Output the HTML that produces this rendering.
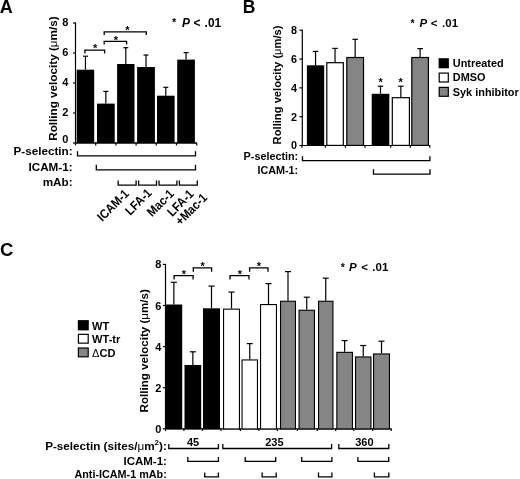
<!DOCTYPE html>
<html><head><meta charset="utf-8"><style>
html,body{margin:0;padding:0;background:#fff;}
body{width:520px;height:479px;overflow:hidden;}
svg{display:block;will-change:transform;filter:blur(0.35px);}
text{font-family:"Liberation Sans",sans-serif;font-weight:bold;fill:#000;}
</style></head><body>
<svg width="520" height="479" viewBox="0 0 520 479">
<rect x="0" y="0" width="520" height="479" fill="#fff"/>
<text x="-0.30" y="12.50" font-size="18" text-anchor="start" >A</text>
<line x1="75.50" y1="22.50" x2="75.50" y2="143.60" stroke="#000" stroke-width="1.2"/>
<line x1="73.00" y1="143.00" x2="75.50" y2="143.00" stroke="#000" stroke-width="1.2"/>
<text x="68.40" y="143.00" font-size="11" text-anchor="end" >0</text>
<line x1="73.00" y1="113.00" x2="75.50" y2="113.00" stroke="#000" stroke-width="1.2"/>
<text x="68.40" y="116.00" font-size="11" text-anchor="end" >2</text>
<line x1="73.00" y1="83.00" x2="75.50" y2="83.00" stroke="#000" stroke-width="1.2"/>
<text x="68.40" y="86.00" font-size="11" text-anchor="end" >4</text>
<line x1="73.00" y1="53.00" x2="75.50" y2="53.00" stroke="#000" stroke-width="1.2"/>
<text x="68.40" y="56.00" font-size="11" text-anchor="end" >6</text>
<line x1="73.00" y1="23.00" x2="75.50" y2="23.00" stroke="#000" stroke-width="1.2"/>
<text x="68.40" y="26.00" font-size="11" text-anchor="end" >8</text>
<line x1="75.50" y1="143.00" x2="196.90" y2="143.00" stroke="#000" stroke-width="1.4"/>
<line x1="75.50" y1="143.00" x2="75.50" y2="145.40" stroke="#000" stroke-width="1.2"/>
<line x1="95.70" y1="143.00" x2="95.70" y2="145.40" stroke="#000" stroke-width="1.2"/>
<line x1="115.90" y1="143.00" x2="115.90" y2="145.40" stroke="#000" stroke-width="1.2"/>
<line x1="136.10" y1="143.00" x2="136.10" y2="145.40" stroke="#000" stroke-width="1.2"/>
<line x1="156.30" y1="143.00" x2="156.30" y2="145.40" stroke="#000" stroke-width="1.2"/>
<line x1="176.50" y1="143.00" x2="176.50" y2="145.40" stroke="#000" stroke-width="1.2"/>
<line x1="196.70" y1="143.00" x2="196.70" y2="145.40" stroke="#000" stroke-width="1.2"/>
<line x1="85.45" y1="56.20" x2="85.45" y2="69.70" stroke="#000" stroke-width="1.2"/>
<line x1="82.95" y1="56.20" x2="87.95" y2="56.20" stroke="#000" stroke-width="1.2"/>
<rect x="76.70" y="69.70" width="17.50" height="73.30" fill="#000"/>
<line x1="105.85" y1="91.40" x2="105.85" y2="103.60" stroke="#000" stroke-width="1.2"/>
<line x1="103.35" y1="91.40" x2="108.35" y2="91.40" stroke="#000" stroke-width="1.2"/>
<rect x="97.00" y="103.60" width="17.70" height="39.40" fill="#000"/>
<line x1="125.80" y1="47.70" x2="125.80" y2="64.00" stroke="#000" stroke-width="1.2"/>
<line x1="123.30" y1="47.70" x2="128.30" y2="47.70" stroke="#000" stroke-width="1.2"/>
<rect x="117.10" y="64.00" width="17.40" height="79.00" fill="#000"/>
<line x1="146.00" y1="55.00" x2="146.00" y2="67.00" stroke="#000" stroke-width="1.2"/>
<line x1="143.50" y1="55.00" x2="148.50" y2="55.00" stroke="#000" stroke-width="1.2"/>
<rect x="137.10" y="67.00" width="17.80" height="76.00" fill="#000"/>
<line x1="165.80" y1="87.30" x2="165.80" y2="95.70" stroke="#000" stroke-width="1.2"/>
<line x1="163.30" y1="87.30" x2="168.30" y2="87.30" stroke="#000" stroke-width="1.2"/>
<rect x="157.00" y="95.70" width="17.60" height="47.30" fill="#000"/>
<line x1="186.05" y1="52.60" x2="186.05" y2="59.60" stroke="#000" stroke-width="1.2"/>
<line x1="183.55" y1="52.60" x2="188.55" y2="52.60" stroke="#000" stroke-width="1.2"/>
<rect x="177.20" y="59.60" width="17.70" height="83.40" fill="#000"/>
<polyline points="84.90,53.50 84.90,50.20 104.60,50.20 104.60,53.50" fill="none" stroke="#000" stroke-width="1.3" stroke-linejoin="miter"/>
<text x="95.10" y="51.92" font-size="11" text-anchor="middle" >*</text>
<polyline points="104.20,44.50 104.20,41.30 126.60,41.30 126.60,44.50" fill="none" stroke="#000" stroke-width="1.3" stroke-linejoin="miter"/>
<text x="116.00" y="43.52" font-size="11" text-anchor="middle" >*</text>
<polyline points="104.20,34.90 104.20,31.90 146.30,31.90 146.30,34.90" fill="none" stroke="#000" stroke-width="1.3" stroke-linejoin="miter"/>
<text x="127.30" y="33.82" font-size="11" text-anchor="middle" >*</text>
<text x="171.90" y="25.90" font-size="10.8" text-anchor="start" >*</text>
<text x="181.90" y="27.10" font-size="11.9" font-style="italic">P</text>
<text x="193.40" y="27.10" font-size="11.9" text-anchor="start" >&lt;</text>
<text x="204.59" y="27.10" font-size="11.9" text-anchor="start" >.01</text>
<text transform="translate(56.50,78.60) rotate(-90)" x="0" y="0" font-size="11.7" text-anchor="middle">Rolling velocity (<tspan font-weight="normal">&#956;</tspan>m/s)</text>
<text x="72.60" y="155.10" font-size="11.7" text-anchor="end" >P-selectin:</text>
<text x="72.60" y="170.50" font-size="11.7" text-anchor="end" >ICAM-1:</text>
<text x="72.60" y="185.70" font-size="11.7" text-anchor="end" >mAb:</text>
<polyline points="77.50,151.20 77.50,155.80 195.50,155.80 195.50,151.20" fill="none" stroke="#000" stroke-width="1.3" stroke-linejoin="miter"/>
<polyline points="96.30,164.80 96.30,169.80 195.50,169.80 195.50,164.80" fill="none" stroke="#000" stroke-width="1.3" stroke-linejoin="miter"/>
<polyline points="118.20,180.50 118.20,185.10 136.10,185.10 136.10,180.50" fill="none" stroke="#000" stroke-width="1.3" stroke-linejoin="miter"/>
<polyline points="138.60,180.50 138.60,185.10 156.50,185.10 156.50,180.50" fill="none" stroke="#000" stroke-width="1.3" stroke-linejoin="miter"/>
<polyline points="159.00,180.50 159.00,185.10 176.90,185.10 176.90,180.50" fill="none" stroke="#000" stroke-width="1.3" stroke-linejoin="miter"/>
<polyline points="179.40,180.50 179.40,185.10 197.30,185.10 197.30,180.50" fill="none" stroke="#000" stroke-width="1.3" stroke-linejoin="miter"/>
<text transform="translate(129.80,194.50) rotate(-45) scale(0.9,1)" font-size="12.6" text-anchor="end">ICAM-1</text>
<text transform="translate(152.50,193.70) rotate(-45) scale(0.9,1)" font-size="12.6" text-anchor="end">LFA-1</text>
<text transform="translate(174.80,194.50) rotate(-45) scale(0.9,1)" font-size="12.6" text-anchor="end">Mac-1</text>
<text transform="translate(194.50,194.90) rotate(-45) scale(0.9,1)" font-size="12.6" text-anchor="end">LFA-1</text>
<text transform="translate(207.90,198.60) rotate(-45) scale(0.9,1)" font-size="12.6" text-anchor="end">+Mac-1</text>
<text x="242.70" y="12.70" font-size="17.5" text-anchor="start" >B</text>
<line x1="302.30" y1="29.70" x2="302.30" y2="146.10" stroke="#000" stroke-width="1.2"/>
<line x1="299.40" y1="145.50" x2="302.30" y2="145.50" stroke="#000" stroke-width="1.2"/>
<text x="297.00" y="149.40" font-size="10.8" text-anchor="end" >0</text>
<line x1="299.40" y1="116.68" x2="302.30" y2="116.68" stroke="#000" stroke-width="1.2"/>
<text x="297.00" y="120.58" font-size="10.8" text-anchor="end" >2</text>
<line x1="299.40" y1="87.86" x2="302.30" y2="87.86" stroke="#000" stroke-width="1.2"/>
<text x="297.00" y="91.76" font-size="10.8" text-anchor="end" >4</text>
<line x1="299.40" y1="59.04" x2="302.30" y2="59.04" stroke="#000" stroke-width="1.2"/>
<text x="297.00" y="62.94" font-size="10.8" text-anchor="end" >6</text>
<line x1="299.40" y1="30.22" x2="302.30" y2="30.22" stroke="#000" stroke-width="1.2"/>
<text x="297.00" y="34.12" font-size="10.8" text-anchor="end" >8</text>
<line x1="302.30" y1="145.50" x2="430.00" y2="145.50" stroke="#000" stroke-width="1.2"/>
<line x1="302.00" y1="145.50" x2="302.00" y2="147.70" stroke="#000" stroke-width="1.2"/>
<line x1="325.40" y1="145.50" x2="325.40" y2="147.70" stroke="#000" stroke-width="1.2"/>
<line x1="345.40" y1="145.50" x2="345.40" y2="147.70" stroke="#000" stroke-width="1.2"/>
<line x1="365.00" y1="145.50" x2="365.00" y2="147.70" stroke="#000" stroke-width="1.2"/>
<line x1="390.70" y1="145.50" x2="390.70" y2="147.70" stroke="#000" stroke-width="1.2"/>
<line x1="410.30" y1="145.50" x2="410.30" y2="147.70" stroke="#000" stroke-width="1.2"/>
<line x1="429.80" y1="145.50" x2="429.80" y2="147.70" stroke="#000" stroke-width="1.2"/>
<line x1="315.55" y1="51.40" x2="315.55" y2="65.30" stroke="#000" stroke-width="1.2"/>
<line x1="312.80" y1="51.40" x2="318.30" y2="51.40" stroke="#000" stroke-width="1.2"/>
<rect x="306.90" y="65.30" width="17.30" height="80.20" fill="#000"/>
<line x1="335.05" y1="48.40" x2="335.05" y2="62.10" stroke="#000" stroke-width="1.2"/>
<line x1="332.30" y1="48.40" x2="337.80" y2="48.40" stroke="#000" stroke-width="1.2"/>
<rect x="326.80" y="62.70" width="16.50" height="82.70" fill="#fff" stroke="#000" stroke-width="1.2"/>
<line x1="355.15" y1="39.30" x2="355.15" y2="56.90" stroke="#000" stroke-width="1.2"/>
<line x1="352.40" y1="39.30" x2="357.90" y2="39.30" stroke="#000" stroke-width="1.2"/>
<rect x="346.80" y="57.50" width="16.70" height="87.90" fill="#858585" stroke="#000" stroke-width="1.2"/>
<line x1="380.50" y1="86.20" x2="380.50" y2="93.80" stroke="#000" stroke-width="1.2"/>
<line x1="377.75" y1="86.20" x2="383.25" y2="86.20" stroke="#000" stroke-width="1.2"/>
<rect x="371.70" y="93.80" width="17.60" height="51.70" fill="#000"/>
<line x1="400.85" y1="86.20" x2="400.85" y2="97.10" stroke="#000" stroke-width="1.2"/>
<line x1="398.10" y1="86.20" x2="403.60" y2="86.20" stroke="#000" stroke-width="1.2"/>
<rect x="392.30" y="97.70" width="17.10" height="47.70" fill="#fff" stroke="#000" stroke-width="1.2"/>
<line x1="420.10" y1="48.60" x2="420.10" y2="56.90" stroke="#000" stroke-width="1.2"/>
<line x1="417.35" y1="48.60" x2="422.85" y2="48.60" stroke="#000" stroke-width="1.2"/>
<rect x="411.80" y="57.50" width="16.60" height="87.90" fill="#858585" stroke="#000" stroke-width="1.2"/>
<text x="380.60" y="85.92" font-size="11" text-anchor="middle" >*</text>
<text x="400.60" y="85.92" font-size="11" text-anchor="middle" >*</text>
<text x="410.40" y="26.80" font-size="10.5" text-anchor="start" >*</text>
<text x="419.40" y="26.80" font-size="11.5" font-style="italic">P</text>
<text x="430.72" y="26.80" font-size="11.5" text-anchor="start" >&lt;</text>
<text x="442.12" y="26.80" font-size="11.5" text-anchor="start" >.01</text>
<text transform="translate(280.90,84.90) rotate(-90)" x="0" y="0" font-size="11.2" text-anchor="middle">Rolling velocity (<tspan font-weight="normal">&#956;</tspan>m/s)</text>
<rect x="438.60" y="58.20" width="10.30" height="10.10" fill="#000"/>
<text x="452.80" y="67.10" font-size="10.9" text-anchor="start" >Untreated</text>
<rect x="439.20" y="73.10" width="9.10" height="8.90" fill="#fff" stroke="#000" stroke-width="1.2"/>
<text x="452.80" y="81.40" font-size="10.9" text-anchor="start" >DMSO</text>
<rect x="439.20" y="87.40" width="9.10" height="8.90" fill="#858585" stroke="#000" stroke-width="1.2"/>
<text x="452.80" y="95.70" font-size="10.9" text-anchor="start" >Syk inhibitor</text>
<text x="298.20" y="160.00" font-size="10.8" text-anchor="end" >P-selectin:</text>
<text x="298.20" y="173.80" font-size="10.8" text-anchor="end" >ICAM-1:</text>
<polyline points="302.50,156.20 302.50,160.70 429.90,160.70 429.90,156.20" fill="none" stroke="#000" stroke-width="1.3" stroke-linejoin="miter"/>
<polyline points="373.50,169.20 373.50,174.20 430.00,174.20 430.00,169.20" fill="none" stroke="#000" stroke-width="1.3" stroke-linejoin="miter"/>
<text x="0.00" y="256.30" font-size="18.5" text-anchor="start" >C</text>
<line x1="165.50" y1="264.00" x2="165.50" y2="429.40" stroke="#000" stroke-width="1.2"/>
<line x1="162.90" y1="428.80" x2="165.50" y2="428.80" stroke="#000" stroke-width="1.2"/>
<text x="161.30" y="432.80" font-size="11" text-anchor="end" >0</text>
<line x1="162.90" y1="387.70" x2="165.50" y2="387.70" stroke="#000" stroke-width="1.2"/>
<text x="161.30" y="391.70" font-size="11" text-anchor="end" >2</text>
<line x1="162.90" y1="346.60" x2="165.50" y2="346.60" stroke="#000" stroke-width="1.2"/>
<text x="161.30" y="350.60" font-size="11" text-anchor="end" >4</text>
<line x1="162.90" y1="305.50" x2="165.50" y2="305.50" stroke="#000" stroke-width="1.2"/>
<text x="161.30" y="309.50" font-size="11" text-anchor="end" >6</text>
<line x1="162.90" y1="264.40" x2="165.50" y2="264.40" stroke="#000" stroke-width="1.2"/>
<text x="161.30" y="268.40" font-size="11" text-anchor="end" >8</text>
<line x1="165.50" y1="428.80" x2="391.50" y2="428.80" stroke="#000" stroke-width="1.15"/>
<line x1="165.50" y1="428.80" x2="165.50" y2="431.10" stroke="#000" stroke-width="1.2"/>
<line x1="183.90" y1="428.80" x2="183.90" y2="431.10" stroke="#000" stroke-width="1.2"/>
<line x1="202.40" y1="428.80" x2="202.40" y2="431.10" stroke="#000" stroke-width="1.2"/>
<line x1="221.00" y1="428.80" x2="221.00" y2="431.10" stroke="#000" stroke-width="1.2"/>
<line x1="240.40" y1="428.80" x2="240.40" y2="431.10" stroke="#000" stroke-width="1.2"/>
<line x1="258.80" y1="428.80" x2="258.80" y2="431.10" stroke="#000" stroke-width="1.2"/>
<line x1="277.40" y1="428.80" x2="277.40" y2="431.10" stroke="#000" stroke-width="1.2"/>
<line x1="297.40" y1="428.80" x2="297.40" y2="431.10" stroke="#000" stroke-width="1.2"/>
<line x1="317.20" y1="428.80" x2="317.20" y2="431.10" stroke="#000" stroke-width="1.2"/>
<line x1="335.70" y1="428.80" x2="335.70" y2="431.10" stroke="#000" stroke-width="1.2"/>
<line x1="353.80" y1="428.80" x2="353.80" y2="431.10" stroke="#000" stroke-width="1.2"/>
<line x1="372.60" y1="428.80" x2="372.60" y2="431.10" stroke="#000" stroke-width="1.2"/>
<line x1="391.30" y1="428.80" x2="391.30" y2="431.10" stroke="#000" stroke-width="1.2"/>
<line x1="173.85" y1="282.30" x2="173.85" y2="304.50" stroke="#000" stroke-width="1.2"/>
<line x1="170.85" y1="282.30" x2="176.85" y2="282.30" stroke="#000" stroke-width="1.2"/>
<rect x="165.50" y="304.50" width="16.70" height="124.80" fill="#000"/>
<line x1="192.85" y1="351.80" x2="192.85" y2="365.00" stroke="#000" stroke-width="1.2"/>
<line x1="189.85" y1="351.80" x2="195.85" y2="351.80" stroke="#000" stroke-width="1.2"/>
<rect x="184.50" y="365.00" width="16.70" height="64.30" fill="#000"/>
<line x1="211.50" y1="286.10" x2="211.50" y2="308.30" stroke="#000" stroke-width="1.2"/>
<line x1="208.50" y1="286.10" x2="214.50" y2="286.10" stroke="#000" stroke-width="1.2"/>
<rect x="203.00" y="308.30" width="17.00" height="121.00" fill="#000"/>
<line x1="231.50" y1="292.10" x2="231.50" y2="308.60" stroke="#000" stroke-width="1.2"/>
<line x1="228.50" y1="292.10" x2="234.50" y2="292.10" stroke="#000" stroke-width="1.2"/>
<rect x="223.55" y="309.15" width="15.90" height="119.80" fill="#fff" stroke="#000" stroke-width="1.1"/>
<line x1="249.75" y1="343.60" x2="249.75" y2="359.40" stroke="#000" stroke-width="1.2"/>
<line x1="246.75" y1="343.60" x2="252.75" y2="343.60" stroke="#000" stroke-width="1.2"/>
<rect x="242.05" y="359.95" width="15.40" height="69.00" fill="#fff" stroke="#000" stroke-width="1.1"/>
<line x1="268.50" y1="283.60" x2="268.50" y2="304.00" stroke="#000" stroke-width="1.2"/>
<line x1="265.50" y1="283.60" x2="271.50" y2="283.60" stroke="#000" stroke-width="1.2"/>
<rect x="260.55" y="304.55" width="15.90" height="124.40" fill="#fff" stroke="#000" stroke-width="1.1"/>
<line x1="288.00" y1="271.60" x2="288.00" y2="300.70" stroke="#000" stroke-width="1.2"/>
<line x1="285.00" y1="271.60" x2="291.00" y2="271.60" stroke="#000" stroke-width="1.2"/>
<rect x="280.55" y="301.25" width="14.90" height="127.70" fill="#858585" stroke="#000" stroke-width="1.1"/>
<line x1="306.75" y1="297.20" x2="306.75" y2="309.70" stroke="#000" stroke-width="1.2"/>
<line x1="303.75" y1="297.20" x2="309.75" y2="297.20" stroke="#000" stroke-width="1.2"/>
<rect x="299.05" y="310.25" width="15.40" height="118.70" fill="#858585" stroke="#000" stroke-width="1.1"/>
<line x1="325.75" y1="278.20" x2="325.75" y2="300.70" stroke="#000" stroke-width="1.2"/>
<line x1="322.75" y1="278.20" x2="328.75" y2="278.20" stroke="#000" stroke-width="1.2"/>
<rect x="318.55" y="301.25" width="14.40" height="127.70" fill="#858585" stroke="#000" stroke-width="1.1"/>
<line x1="344.65" y1="340.60" x2="344.65" y2="351.80" stroke="#000" stroke-width="1.2"/>
<line x1="341.65" y1="340.60" x2="347.65" y2="340.60" stroke="#000" stroke-width="1.2"/>
<rect x="336.85" y="352.35" width="15.60" height="76.60" fill="#858585" stroke="#000" stroke-width="1.1"/>
<line x1="363.25" y1="345.50" x2="363.25" y2="356.40" stroke="#000" stroke-width="1.2"/>
<line x1="360.25" y1="345.50" x2="366.25" y2="345.50" stroke="#000" stroke-width="1.2"/>
<rect x="355.55" y="356.95" width="15.40" height="72.00" fill="#858585" stroke="#000" stroke-width="1.1"/>
<line x1="381.50" y1="341.20" x2="381.50" y2="353.40" stroke="#000" stroke-width="1.2"/>
<line x1="378.50" y1="341.20" x2="384.50" y2="341.20" stroke="#000" stroke-width="1.2"/>
<rect x="373.55" y="353.95" width="15.90" height="75.00" fill="#858585" stroke="#000" stroke-width="1.1"/>
<polyline points="174.10,279.60 174.10,275.60 193.10,275.60 193.10,279.60" fill="none" stroke="#000" stroke-width="1.3" stroke-linejoin="miter"/>
<text x="183.80" y="277.62" font-size="11" text-anchor="middle" >*</text>
<polyline points="193.30,271.80 193.30,267.80 211.60,267.80 211.60,271.80" fill="none" stroke="#000" stroke-width="1.3" stroke-linejoin="miter"/>
<text x="202.70" y="269.92" font-size="11" text-anchor="middle" >*</text>
<polyline points="230.00,279.60 230.00,275.60 249.00,275.60 249.00,279.60" fill="none" stroke="#000" stroke-width="1.3" stroke-linejoin="miter"/>
<text x="239.80" y="277.62" font-size="11" text-anchor="middle" >*</text>
<polyline points="249.60,271.80 249.60,267.80 268.00,267.80 268.00,271.80" fill="none" stroke="#000" stroke-width="1.3" stroke-linejoin="miter"/>
<text x="259.00" y="269.92" font-size="11" text-anchor="middle" >*</text>
<text x="340.70" y="271.00" font-size="10.5" text-anchor="start" >*</text>
<text x="349.00" y="271.20" font-size="11.5" font-style="italic">P</text>
<text x="361.22" y="271.20" font-size="11.5" text-anchor="start" >&lt;</text>
<text x="372.32" y="271.20" font-size="11.5" text-anchor="start" >.01</text>
<text transform="translate(147.90,350.80) rotate(-90)" x="0" y="0" font-size="11.6" text-anchor="middle">Rolling velocity (<tspan font-weight="normal">&#956;</tspan>m/s)</text>
<rect x="77.80" y="320.10" width="11.00" height="10.30" fill="#000"/>
<text x="92.00" y="329.50" font-size="11.1" text-anchor="start" >WT</text>
<rect x="78.40" y="334.35" width="9.80" height="8.80" fill="#fff" stroke="#000" stroke-width="1.2"/>
<text x="92.00" y="343.15" font-size="11.1" text-anchor="start" >WT-tr</text>
<rect x="78.40" y="348.00" width="9.80" height="8.80" fill="#858585" stroke="#000" stroke-width="1.2"/>
<text x="92.00" y="356.80" font-size="11.1" text-anchor="start" ><tspan font-weight="normal">&#916;</tspan>CD</text>
<text x="166.80" y="449.60" font-size="11.7" text-anchor="end" >P-selectin (sites/<tspan font-weight="normal">&#956;</tspan>m<tspan font-size="8" dy="-4.2">2</tspan><tspan dy="4.2">):</tspan></text>
<text x="166.90" y="465.00" font-size="11.5" text-anchor="end" >ICAM-1:</text>
<text x="166.80" y="478.30" font-size="10.8" text-anchor="end" >Anti-ICAM-1 mAb:</text>
<text x="193.00" y="446.00" font-size="11" text-anchor="middle" >45</text>
<text x="274.40" y="446.00" font-size="11" text-anchor="middle" >235</text>
<text x="364.40" y="446.00" font-size="11" text-anchor="middle" >360</text>
<polyline points="168.80,444.10 168.80,448.50 218.40,448.50 218.40,444.10" fill="none" stroke="#000" stroke-width="1.3" stroke-linejoin="miter"/>
<polyline points="222.80,444.10 222.80,448.50 331.60,448.50 331.60,444.10" fill="none" stroke="#000" stroke-width="1.3" stroke-linejoin="miter"/>
<polyline points="338.80,444.10 338.80,448.50 388.80,448.50 388.80,444.10" fill="none" stroke="#000" stroke-width="1.3" stroke-linejoin="miter"/>
<polyline points="187.80,456.90 187.80,461.30 218.40,461.30 218.40,456.90" fill="none" stroke="#000" stroke-width="1.3" stroke-linejoin="miter"/>
<polyline points="245.20,456.90 245.20,461.30 275.70,461.30 275.70,456.90" fill="none" stroke="#000" stroke-width="1.3" stroke-linejoin="miter"/>
<polyline points="301.70,456.90 301.70,461.30 331.90,461.30 331.90,456.90" fill="none" stroke="#000" stroke-width="1.3" stroke-linejoin="miter"/>
<polyline points="357.90,456.90 357.90,461.30 388.70,461.30 388.70,456.90" fill="none" stroke="#000" stroke-width="1.3" stroke-linejoin="miter"/>
<polyline points="204.70,472.50 204.70,476.90 218.40,476.90 218.40,472.50" fill="none" stroke="#000" stroke-width="1.3" stroke-linejoin="miter"/>
<polyline points="262.10,472.50 262.10,476.90 276.20,476.90 276.20,472.50" fill="none" stroke="#000" stroke-width="1.3" stroke-linejoin="miter"/>
<polyline points="318.50,472.50 318.50,476.90 331.90,476.90 331.90,472.50" fill="none" stroke="#000" stroke-width="1.3" stroke-linejoin="miter"/>
<polyline points="374.40,472.50 374.40,476.90 388.80,476.90 388.80,472.50" fill="none" stroke="#000" stroke-width="1.3" stroke-linejoin="miter"/>
</svg>
</body></html>
